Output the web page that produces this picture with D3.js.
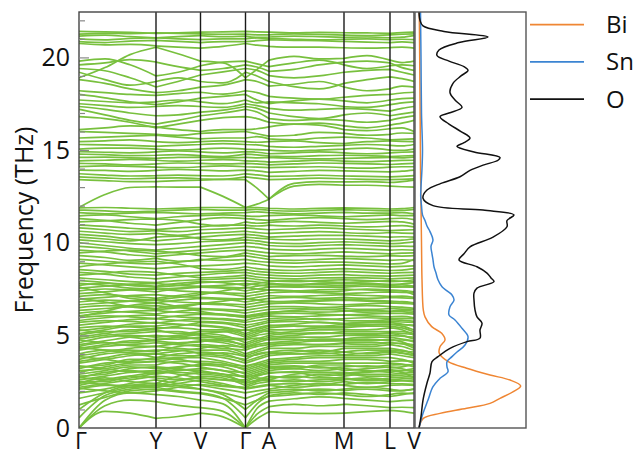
<!DOCTYPE html>
<html>
<head>
<meta charset="utf-8">
<script src="https://cdn.jsdelivr.net/npm/d3@7"></script>
<style>
  body { margin: 0; background: #fff; }
  svg { display: block; }
  text { font-family: "Open Sans", sans-serif; fill: #111; }
</style>
</head>
<body>
<svg id="chart" width="634" height="456"></svg>
<script>
// High-symmetry path: labels and their cumulative k-distance
const kLabels = ["Γ", "Y", "V", "Γ", "A", "M", "L", "V"];
const kTicks = [0, 0.77, 1.215, 1.665, 1.90, 2.65, 3.11, 3.35];
// k-points at which each phonon branch is sampled
const kSamples = [0, 0.26, 0.51, 0.77, 0.99, 1.215, 1.44, 1.665, 1.78, 1.90, 2.15, 2.40, 2.65, 2.88, 3.11, 3.23, 3.35];
// sample indices of the high-symmetry points (segment breaks)
const segmentBreaks = [0, 3, 5, 7, 9, 12, 14, 16];

const freqTicks = [0, 5, 10, 15, 20];

// Phonon branches (THz), one row per branch, at kSamples
const bands = [
  // high-frequency (oxygen) manifold
  [21.40,21.38,21.35,21.30,21.33,21.36,21.38,21.40,21.38,21.36,21.32,21.35,21.33,21.32,21.30,21.34,21.36],
  [21.26,21.30,21.28,21.33,21.30,21.27,21.25,21.26,21.22,21.22,21.27,21.24,21.20,21.18,21.22,21.25,21.27],
  [21.15,21.20,21.12,21.05,21.12,21.18,21.12,21.15,21.08,21.10,21.15,21.12,21.08,21.10,21.06,21.09,21.18],
  [21.00,20.95,21.02,21.06,21.00,20.96,21.00,21.00,21.05,21.02,20.98,20.95,20.98,21.00,20.96,20.98,20.96],
  [20.85,20.80,20.88,20.92,20.86,20.80,20.85,20.85,20.90,20.95,20.92,20.90,20.86,20.82,20.80,20.84,20.80],
  [20.75,20.68,20.70,20.62,20.55,20.50,20.60,20.75,20.66,20.60,20.55,20.55,20.52,20.50,20.53,20.55,20.50],
  [18.90,19.45,20.15,20.55,20.20,19.80,19.70,18.90,19.35,19.85,20.05,19.92,19.95,20.10,19.85,19.72,19.80],
  [19.80,19.92,19.60,19.00,19.20,19.55,19.75,19.80,19.65,19.50,19.70,19.85,19.60,19.40,19.55,19.60,19.55],
  [19.60,19.70,19.88,19.75,19.50,19.30,19.40,19.60,19.48,19.25,19.35,19.60,19.75,19.80,19.70,19.45,19.30],
  [19.40,19.28,18.90,18.40,18.70,19.05,19.22,19.40,19.30,19.02,18.90,19.00,19.20,19.30,19.35,19.20,19.05],
  [19.20,18.80,18.50,18.70,18.90,18.70,18.62,19.20,19.00,18.70,18.42,18.30,18.60,18.80,18.95,18.85,18.70],
  [18.80,18.60,18.30,18.10,18.20,18.40,18.50,18.80,18.70,18.45,18.55,18.70,18.40,18.20,18.30,18.45,18.40],
  [18.20,18.10,18.00,17.95,18.05,18.12,18.02,18.20,18.10,17.90,17.80,17.75,17.85,17.95,18.00,18.08,18.12],
  [18.00,17.82,17.60,17.45,17.60,17.80,17.90,18.00,17.70,17.50,17.65,17.75,17.65,17.55,17.70,17.78,17.80],
  [17.70,17.62,17.55,17.60,17.70,17.60,17.50,17.70,17.55,17.60,17.55,17.50,17.35,17.30,17.45,17.55,17.60],
  [17.50,17.40,17.30,17.35,17.40,17.35,17.30,17.50,17.40,17.25,17.15,17.20,17.25,17.20,17.10,17.25,17.35],
  [17.35,17.20,17.00,16.85,16.90,17.05,17.15,17.35,17.25,17.00,16.80,16.70,16.90,17.00,16.85,16.95,17.05],
  [17.20,16.90,16.60,16.40,16.60,16.85,17.00,17.20,17.05,16.70,16.60,16.65,16.60,16.50,16.60,16.75,16.85],
  [16.80,16.70,16.50,16.20,16.40,16.60,16.75,16.80,16.70,16.50,16.40,16.45,16.30,16.20,16.35,16.45,16.60],
  [16.10,16.20,16.30,16.25,16.10,16.00,16.10,16.10,16.15,16.25,16.40,16.35,16.10,16.05,16.15,16.20,16.00],
  [16.00,15.95,15.90,15.85,15.80,15.90,15.95,16.00,15.88,15.75,15.80,15.95,15.90,15.80,15.85,15.92,15.90],
  [15.65,15.70,15.75,15.80,15.70,15.60,15.65,15.65,15.72,15.60,15.55,15.65,15.70,15.65,15.55,15.58,15.60],
  [15.45,15.50,15.55,15.45,15.40,15.45,15.50,15.45,15.42,15.45,15.50,15.40,15.35,15.45,15.50,15.47,15.45],
  [15.30,15.28,15.25,15.20,15.25,15.30,15.35,15.30,15.28,15.20,15.15,15.20,15.25,15.30,15.25,15.22,15.30],
  [15.05,15.10,15.10,15.05,15.00,15.05,15.10,15.05,15.02,15.00,14.95,15.00,15.05,15.10,15.00,14.98,15.05],
  [14.92,14.88,14.85,14.90,14.95,14.90,14.85,14.92,14.88,14.80,14.85,14.90,14.85,14.80,14.85,14.88,14.90],
  [14.78,14.75,14.70,14.72,14.75,14.70,14.65,14.78,14.74,14.68,14.65,14.70,14.72,14.70,14.65,14.68,14.70],
  [14.60,14.62,14.58,14.55,14.60,14.62,14.58,14.60,14.58,14.60,14.55,14.52,14.55,14.58,14.60,14.58,14.62],
  [14.42,14.45,14.50,14.45,14.40,14.45,14.48,14.42,14.40,14.35,14.40,14.45,14.40,14.38,14.42,14.44,14.45],
  [14.28,14.25,14.20,14.25,14.30,14.28,14.25,14.28,14.25,14.20,14.25,14.30,14.28,14.25,14.22,14.25,14.28],
  [14.10,14.15,14.12,14.08,14.05,14.10,14.15,14.10,14.08,14.05,14.08,14.10,14.05,14.02,14.08,14.10,14.10],
  [13.92,13.90,13.85,13.90,13.95,13.92,13.88,13.92,13.88,13.80,13.85,13.90,13.88,13.85,13.82,13.86,13.92],
  [13.72,13.65,13.60,13.62,13.65,13.62,13.60,13.72,13.66,13.58,13.60,13.64,13.60,13.58,13.55,13.58,13.62],
  [13.55,13.50,13.45,13.48,13.50,13.45,13.42,13.55,13.48,13.40,13.44,13.48,13.45,13.42,13.40,13.42,13.45],
  [13.40,13.35,13.30,13.30,13.35,13.38,13.42,13.40,12.95,12.35,13.20,13.30,13.28,13.30,13.25,13.30,13.38],
  [11.90,12.60,12.98,13.02,13.00,13.00,12.50,11.90,12.08,12.35,13.05,13.15,13.10,13.10,13.05,13.02,13.00],
  // 9.4 - 11.9 THz
  [11.88,11.90,11.86,11.82,11.85,11.90,11.90,11.88,11.90,11.86,11.82,11.85,11.88,11.85,11.82,11.84,11.90],
  [11.76,11.72,11.66,11.70,11.76,11.80,11.76,11.76,11.80,11.75,11.70,11.74,11.78,11.75,11.72,11.74,11.80],
  [11.62,11.56,11.60,11.64,11.60,11.55,11.60,11.62,11.66,11.62,11.56,11.60,11.64,11.60,11.60,11.62,11.55],
  [11.45,11.50,11.40,11.30,11.40,11.46,11.50,11.45,11.42,11.46,11.50,11.45,11.40,11.45,11.50,11.46,11.46],
  [11.30,11.20,11.05,10.95,11.10,11.25,11.35,11.30,11.25,11.20,11.30,11.35,11.30,11.25,11.30,11.32,11.25],
  [11.12,11.18,11.25,11.28,11.20,11.00,10.90,11.12,11.05,11.10,11.15,11.10,11.05,11.10,11.15,11.12,11.00],
  [10.95,10.88,10.78,10.70,10.80,10.85,10.95,10.95,10.90,10.95,10.90,10.95,10.90,10.85,10.90,10.92,10.85],
  [10.80,10.70,10.60,10.65,10.60,10.70,10.75,10.80,10.75,10.70,10.75,10.80,10.75,10.70,10.65,10.68,10.70],
  [10.62,10.52,10.45,10.50,10.40,10.50,10.55,10.62,10.55,10.50,10.55,10.60,10.55,10.50,10.55,10.52,10.50],
  [10.45,10.35,10.20,10.10,10.20,10.30,10.40,10.45,10.40,10.30,10.35,10.40,10.40,10.35,10.30,10.32,10.30],
  [10.30,10.20,10.10,10.30,10.35,10.20,10.15,10.30,10.25,10.20,10.15,10.20,10.20,10.15,10.10,10.14,10.20],
  [10.15,10.05,9.95,9.90,9.95,10.05,10.10,10.15,10.10,10.00,9.95,10.00,10.05,10.00,9.95,9.98,10.05],
  [10.00,9.85,9.70,9.60,9.70,9.80,9.90,10.00,9.95,9.85,9.80,9.85,9.90,9.85,9.80,9.82,9.80],
  [9.80,9.70,9.55,9.40,9.50,9.60,9.70,9.80,9.75,9.65,9.60,9.65,9.70,9.65,9.60,9.62,9.60],
  // 7.5 - 9.6 THz
  [9.60,9.50,9.35,9.25,9.35,9.45,9.55,9.60,9.52,9.45,9.40,9.45,9.50,9.45,9.40,9.44,9.45],
  [9.45,9.55,9.60,9.55,9.45,9.30,9.25,9.45,9.35,9.25,9.30,9.32,9.28,9.25,9.30,9.28,9.30],
  [9.30,9.20,9.05,9.15,9.00,9.05,9.20,9.30,9.20,9.10,9.05,9.10,9.15,9.10,9.05,9.08,9.05],
  [9.10,9.00,8.90,8.85,8.95,9.10,9.05,9.10,9.00,8.95,8.90,8.95,8.95,8.90,8.85,8.88,9.10],
  [8.90,8.80,8.70,8.60,8.70,8.75,8.80,8.90,8.85,8.75,8.70,8.75,8.80,8.75,8.70,8.72,8.75],
  [8.70,8.85,8.95,9.00,8.85,8.60,8.55,8.70,8.60,8.55,8.50,8.55,8.60,8.55,8.50,8.52,8.60],
  [8.55,8.45,8.30,8.25,8.35,8.40,8.45,8.55,8.45,8.40,8.35,8.40,8.45,8.40,8.35,8.38,8.40],
  [8.40,8.30,8.15,8.05,8.15,8.25,8.35,8.40,8.30,8.25,8.20,8.25,8.28,8.22,8.20,8.22,8.25],
  [8.25,8.35,8.45,8.40,8.25,8.10,8.15,8.25,8.15,8.10,8.05,8.10,8.12,8.10,8.05,8.08,8.10],
  [8.10,8.00,7.90,7.85,7.95,8.00,8.05,8.10,8.02,7.95,7.90,7.95,8.00,7.95,7.90,7.92,8.00],
  [7.95,7.85,7.70,7.60,7.70,7.85,7.90,7.95,7.88,7.80,7.75,7.80,7.85,7.80,7.75,7.78,7.85],
  [7.80,7.70,7.55,7.50,7.55,7.65,7.70,7.80,7.72,7.65,7.60,7.65,7.70,7.65,7.60,7.62,7.65],
  // 5.2 - 7.9 THz
  [7.70,7.80,7.75,7.65,7.80,7.90,7.85,7.70,7.80,7.90,7.95,7.90,7.85,7.90,7.95,7.92,7.90],
  [7.60,7.30,7.00,6.90,7.05,7.20,7.40,7.60,7.50,7.45,7.40,7.35,7.40,7.50,7.45,7.40,7.20],
  [7.55,7.65,7.75,7.80,7.70,7.65,7.60,7.55,7.65,7.75,7.70,7.75,7.80,7.75,7.70,7.72,7.65],
  [7.40,7.50,7.45,7.35,7.50,7.60,7.55,7.40,7.50,7.60,7.65,7.60,7.60,7.65,7.60,7.62,7.60],
  [7.25,7.35,7.45,7.50,7.40,7.35,7.30,7.25,7.35,7.45,7.40,7.45,7.50,7.45,7.40,7.42,7.35],
  [7.10,7.20,7.10,7.00,7.15,7.30,7.25,7.10,7.20,7.30,7.35,7.30,7.25,7.30,7.35,7.32,7.30],
  [7.00,6.80,6.55,6.40,6.50,6.70,6.85,7.00,6.90,6.80,6.85,6.90,6.95,6.90,6.85,6.80,6.70],
  [6.95,7.05,7.15,7.20,7.10,7.05,7.00,6.95,7.05,7.15,7.10,7.15,7.20,7.15,7.10,7.12,7.05],
  [6.80,6.90,6.85,6.75,6.90,7.00,6.95,6.80,6.90,7.00,7.05,7.00,7.05,7.00,7.05,7.02,7.00],
  [6.65,6.75,6.85,6.90,6.80,6.75,6.70,6.65,6.75,6.85,6.80,6.85,6.90,6.85,6.80,6.82,6.75],
  [6.50,6.60,6.55,6.45,6.60,6.70,6.65,6.50,6.60,6.70,6.75,6.70,6.65,6.70,6.75,6.72,6.70],
  [6.35,6.45,6.55,6.60,6.50,6.45,6.40,6.35,6.45,6.55,6.55,6.50,6.55,6.60,6.55,6.52,6.45],
  [6.20,6.30,6.25,6.15,6.30,6.40,6.35,6.20,6.30,6.40,6.45,6.40,6.45,6.40,6.45,6.42,6.40],
  [6.05,6.20,6.30,6.35,6.25,6.20,6.15,6.05,6.15,6.25,6.30,6.25,6.30,6.35,6.30,6.28,6.20],
  [6.00,6.30,6.60,6.75,6.55,6.30,6.10,6.00,6.10,6.20,6.35,6.40,6.35,6.25,6.30,6.35,6.30],
  [5.95,6.05,6.00,5.90,6.05,6.15,6.10,5.95,6.05,6.15,6.20,6.15,6.10,6.15,6.20,6.18,6.15],
  [5.80,5.95,6.05,6.10,6.00,5.95,5.90,5.80,5.95,6.05,6.00,6.05,6.10,6.05,6.00,6.02,5.95],
  [5.70,5.80,5.75,5.65,5.80,5.90,5.85,5.70,5.80,5.90,5.95,5.85,5.90,5.95,5.90,5.92,5.90],
  [5.55,5.70,5.85,5.90,5.80,5.75,5.70,5.55,5.65,5.80,5.85,5.90,5.80,5.78,5.85,5.82,5.75],
  [5.40,5.50,5.45,5.35,5.50,5.70,5.65,5.40,5.55,5.70,5.75,5.70,5.65,5.70,5.75,5.72,5.70],
  [5.30,5.10,4.90,4.75,4.90,5.05,5.20,5.30,5.25,5.20,5.10,5.15,5.10,5.05,5.15,5.10,5.05],
  [5.25,5.40,5.60,5.70,5.60,5.55,5.45,5.25,5.40,5.55,5.50,5.45,5.50,5.55,5.60,5.58,5.55],
  // 3.5 - 5.7 THz
  [5.10,5.30,5.50,5.50,5.60,5.50,5.40,5.10,5.30,5.50,5.60,5.70,5.60,5.70,5.70,5.60,5.50],
  [5.00,5.20,5.20,5.40,5.40,5.30,5.30,5.00,5.20,5.40,5.50,5.50,5.60,5.60,5.60,5.50,5.30],
  [4.90,5.10,5.30,5.30,5.10,5.20,5.20,4.90,5.10,5.30,5.30,5.40,5.40,5.50,5.50,5.40,5.20],
  [4.80,5.00,5.10,5.20,5.20,5.00,4.90,4.80,5.00,5.10,5.20,5.30,5.30,5.30,5.40,5.30,5.00],
  [4.75,4.60,4.45,4.40,4.55,4.65,4.80,4.75,4.85,4.75,4.80,4.70,4.75,4.80,4.70,4.75,4.65],
  [4.60,4.90,5.00,4.90,5.00,5.10,5.00,4.60,4.80,5.00,5.10,5.10,5.20,5.20,5.20,5.20,5.10],
  [4.50,4.70,4.90,5.00,4.90,4.80,4.70,4.50,4.70,4.90,5.00,5.10,5.10,5.10,5.10,5.00,4.80],
  [4.40,4.60,4.60,4.80,4.80,4.90,4.80,4.40,4.60,4.80,4.90,4.90,5.00,5.00,5.00,4.95,4.90],
  [4.35,4.20,4.05,4.00,4.15,4.30,4.45,4.35,4.50,4.60,4.55,4.50,4.55,4.50,4.60,4.55,4.30],
  [4.30,4.50,4.70,4.70,4.60,4.70,4.60,4.30,4.50,4.60,4.70,4.80,4.80,4.90,4.90,4.80,4.70],
  [4.20,4.40,4.50,4.60,4.50,4.40,4.30,4.20,4.40,4.50,4.60,4.70,4.70,4.70,4.80,4.65,4.40],
  [4.00,4.20,4.20,4.10,4.40,4.50,4.40,4.00,4.20,4.40,4.50,4.50,4.60,4.60,4.60,4.55,4.50],
  [3.90,4.10,4.30,4.40,4.30,4.20,4.20,3.90,4.10,4.30,4.30,4.40,4.40,4.40,4.50,4.40,4.20],
  [3.85,3.70,3.55,3.60,3.75,3.95,4.05,3.85,3.95,4.10,4.00,4.05,3.95,4.05,4.15,4.05,3.95],
  [3.70,4.00,4.10,4.20,4.20,4.00,3.90,3.70,4.00,4.10,4.20,4.10,4.30,4.30,4.30,4.20,4.00],
  [3.60,3.80,4.00,3.80,4.00,4.10,4.00,3.60,3.80,4.00,4.10,4.20,4.10,4.20,4.20,4.15,4.10],
  [3.50,3.70,3.90,4.00,3.90,3.90,3.80,3.50,3.70,3.90,4.00,4.00,4.10,4.00,4.10,4.02,3.90],
  // 1.5 - 4 THz
  [3.35,3.20,3.05,3.10,3.25,3.45,3.40,3.35,3.45,3.30,3.35,3.25,3.30,3.35,3.25,3.30,3.45],
  [3.30,3.40,3.70,3.70,3.80,3.80,3.60,3.30,3.50,3.70,3.80,3.90,3.90,3.90,4.00,3.90,3.80],
  [3.20,3.50,3.60,3.80,3.70,3.50,3.40,3.20,3.40,3.60,3.70,3.80,3.80,3.80,3.80,3.70,3.50],
  [3.10,3.20,3.40,3.40,3.60,3.60,3.50,3.10,3.30,3.50,3.60,3.60,3.70,3.70,3.60,3.62,3.60],
  [3.00,3.30,3.50,3.60,3.50,3.30,3.10,3.00,3.20,3.40,3.50,3.50,3.50,3.50,3.50,3.45,3.30],
  [2.90,3.10,3.30,3.20,3.30,3.40,3.30,2.90,3.10,3.30,3.20,3.40,3.40,3.30,3.40,3.42,3.40],
  [2.80,2.90,3.20,3.30,3.20,3.00,2.90,2.80,3.00,3.20,3.30,3.30,3.10,3.20,3.30,3.20,3.00],
  [2.75,2.60,2.70,2.95,3.15,3.10,2.90,2.75,2.85,2.95,3.05,3.00,2.95,3.05,3.15,3.10,3.10],
  [2.70,3.00,3.10,2.90,3.10,3.20,3.10,2.70,2.90,3.10,3.20,3.10,3.20,3.10,3.00,3.10,3.20],
  [2.60,2.80,3.00,3.10,2.90,2.70,2.60,2.60,2.80,3.00,3.00,2.80,2.90,3.00,3.10,3.00,2.70],
  [2.50,2.50,2.80,3.00,3.00,2.90,2.80,2.50,2.70,2.60,2.90,3.00,3.00,2.80,2.80,2.85,2.90],
  [2.45,2.35,2.20,2.30,2.55,2.70,2.60,2.45,2.55,2.60,2.50,2.60,2.65,2.55,2.60,2.65,2.70],
  [2.40,2.70,2.50,2.40,2.80,3.00,2.90,2.40,2.60,2.80,2.70,2.90,2.80,2.90,2.90,2.95,3.00],
  [2.30,2.60,2.80,2.70,2.60,2.80,2.70,2.30,2.50,2.70,2.80,2.70,2.70,2.60,2.70,2.75,2.80],
  [2.20,2.40,2.60,2.80,2.70,2.50,2.30,2.20,2.40,2.50,2.60,2.50,2.60,2.70,2.60,2.55,2.50],
  [2.15,2.00,1.90,2.00,2.20,2.35,2.25,2.15,2.25,2.35,2.40,2.30,2.35,2.45,2.40,2.38,2.35],
  [2.10,2.30,2.30,2.20,2.40,2.60,2.40,2.10,2.20,2.30,2.20,2.30,2.50,2.40,2.50,2.55,2.60],
  [1.90,2.10,2.40,2.60,2.40,2.30,2.10,1.90,2.00,2.10,2.30,2.40,2.30,2.20,2.30,2.32,2.30],
  [1.60,1.90,2.20,2.30,2.20,2.10,1.90,1.60,1.80,2.00,2.10,2.00,2.10,2.20,2.10,2.02,2.10],
  [1.25,1.65,2.00,2.10,1.95,1.85,1.60,1.25,1.50,1.70,1.80,1.90,1.80,1.70,1.80,1.88,1.85],
  [1.00,1.90,2.30,2.40,2.30,2.10,1.80,1.00,1.50,1.90,2.00,2.10,2.02,2.10,2.00,2.02,2.10],
  [0.55,1.75,2.10,2.20,2.00,1.90,1.60,0.55,1.30,1.75,1.90,1.82,1.90,1.80,1.70,1.80,1.90],
  // acoustic branches
  [0.00,1.50,1.90,1.80,1.70,1.50,1.30,0.00,1.05,1.45,1.58,1.68,1.60,1.50,1.42,1.48,1.50],
  [0.00,1.20,1.50,1.42,1.22,1.10,0.90,0.00,0.75,1.15,1.28,1.20,1.28,1.20,1.10,1.12,1.10],
  [0.00,0.90,0.80,0.52,0.62,0.80,0.60,0.00,0.50,0.88,0.80,0.78,0.80,0.88,0.95,0.90,0.80]
];

// Projected phonon DOS (arb. units) versus frequency (THz)
const dosOFreq = [22.45, 22.0, 21.7, 21.4, 21.1, 20.8, 20.4, 20.1, 19.8, 19.5, 19.3, 19.0, 18.6, 18.1, 17.7, 17.3, 17.0, 16.8, 16.4, 16.0, 15.65, 15.4, 15.2, 14.9, 14.6, 14.45, 14.2, 13.9, 13.56, 13.2, 12.84, 12.4, 12.0, 11.76, 11.5, 11.2, 10.86, 10.3, 9.78, 9.4, 9.07, 8.7, 8.36, 8.1, 7.9, 7.55, 7.28, 6.9, 6.37, 6.0, 5.66, 5.29, 4.85, 4.66, 4.3, 3.85, 3.58, 2.97, 2.43, 1.51, 0.61, 0];
const dosO = [0.00, 0.01, 0.04, 0.25, 0.69, 0.40, 0.20, 0.18, 0.30, 0.45, 0.49, 0.42, 0.34, 0.31, 0.36, 0.43, 0.30, 0.21, 0.30, 0.42, 0.51, 0.45, 0.38, 0.55, 0.81, 0.79, 0.65, 0.51, 0.41, 0.22, 0.08, 0.04, 0.14, 0.64, 0.95, 0.88, 0.88, 0.74, 0.51, 0.45, 0.40, 0.58, 0.68, 0.72, 0.75, 0.58, 0.55, 0.55, 0.56, 0.58, 0.63, 0.61, 0.61, 0.48, 0.31, 0.19, 0.13, 0.11, 0.08, 0.04, 0.02, 0.00];
const dosSnFreq = [22.45, 20.0, 17.0, 15.0, 14.0, 13.0, 12.5, 12.0, 11.5, 11.2, 10.9, 10.6, 10.15, 9.8, 9.4, 9.07, 8.7, 8.36, 8.0, 7.62, 7.4, 7.18, 6.9, 6.55, 6.1, 5.83, 5.38, 4.93, 4.48, 4.1, 3.85, 3.58, 3.3, 3.04, 2.68, 2.23, 1.51, 0.79, 0];
const dosSn = [0.015, 0.02, 0.025, 0.035, 0.03, 0.02, 0.017, 0.025, 0.035, 0.06, 0.08, 0.11, 0.14, 0.12, 0.13, 0.14, 0.15, 0.17, 0.19, 0.23, 0.28, 0.33, 0.35, 0.31, 0.30, 0.36, 0.43, 0.49, 0.46, 0.38, 0.33, 0.28, 0.28, 0.29, 0.21, 0.14, 0.09, 0.04, 0.00];
const dosBiFreq = [22.45, 18.0, 14.0, 12.0, 10.0, 8.0, 6.37, 6.0, 5.47, 5.11, 4.75, 4.39, 4.03, 3.58, 3.22, 2.86, 2.59, 2.27, 1.96, 1.6, 1.33, 1.06, 0.79, 0.52, 0];
const dosBi = [0.003, 0.01, 0.015, 0.02, 0.025, 0.03, 0.043, 0.06, 0.127, 0.227, 0.26, 0.21, 0.203, 0.293, 0.477, 0.71, 0.91, 1.017, 0.943, 0.81, 0.71, 0.477, 0.21, 0.043, 0.00];

const species = ["Bi", "Sn", "O"];
const speciesColors = ["#ef8633", "#3b84d2", "#111111"];

const svg = d3.select("#chart");

// panel geometry
const bandLeft = 79, bandRight = 414, plotTop = 12, plotBottom = 428;
const dosLeft = 414, dosRight = 526;

const x = d3.scaleLinear().domain([0, 3.35]).range([bandLeft, bandRight]);
const y = d3.scaleLinear().domain([0, 22.45]).range([plotBottom, plotTop]);
const xd = d3.scaleLinear().domain([-0.05, 1.07]).range([dosLeft, dosRight]);

const defs = svg.append("defs");
defs.append("clipPath").attr("id", "bandClip")
  .append("rect").attr("x", bandLeft).attr("y", plotTop)
  .attr("width", bandRight - bandLeft).attr("height", plotBottom - plotTop);
defs.append("clipPath").attr("id", "dosClip")
  .append("rect").attr("x", dosLeft).attr("y", plotTop)
  .attr("width", dosRight - dosLeft).attr("height", plotBottom - plotTop);

// phonon branches, drawn segment by segment between high-symmetry points
const segLine = d3.line().x(d => x(d[0])).y(d => y(d[1])).curve(d3.curveMonotoneX);
function branchPath(vals) {
  let d = "";
  for (let s = 0; s < segmentBreaks.length - 1; s++) {
    const pts = [];
    for (let i = segmentBreaks[s]; i <= segmentBreaks[s + 1]; i++) pts.push([kSamples[i], vals[i]]);
    d += segLine(pts);
  }
  return d;
}
svg.append("g").attr("clip-path", "url(#bandClip)")
  .selectAll("path").data(bands).join("path")
  .attr("d", branchPath)
  .attr("fill", "none")
  .attr("stroke", "#78c03e")
  .attr("stroke-width", 1.7);

// high-symmetry verticals
svg.append("g").selectAll("line").data(kTicks.slice(1, -1)).join("line")
  .attr("x1", d => x(d)).attr("x2", d => x(d))
  .attr("y1", plotTop).attr("y2", plotBottom)
  .attr("stroke", "#1a1a1a").attr("stroke-width", 1.4);

// band panel frame
svg.append("rect").attr("x", bandLeft).attr("y", plotTop)
  .attr("width", bandRight - bandLeft).attr("height", plotBottom - plotTop)
  .attr("fill", "none").attr("stroke", "#444").attr("stroke-width", 1.4);

// frequency axis: minor and major inward ticks
const minorTicks = d3.range(0, 23).filter(v => v % 5 !== 0);
svg.append("g").attr("transform", `translate(${bandLeft},0)`)
  .call(d3.axisLeft(y).tickValues(minorTicks).tickSize(-6).tickFormat(""))
  .call(g => g.select(".domain").remove())
  .call(g => g.selectAll("line").attr("stroke", "#888").attr("stroke-width", 1.2));
svg.append("g").attr("transform", `translate(${bandLeft},0)`)
  .call(d3.axisLeft(y).tickValues(freqTicks).tickSize(-10).tickPadding(9).tickFormat(d3.format("d")))
  .call(g => g.select(".domain").remove())
  .call(g => g.selectAll("line").attr("stroke", "#888").attr("stroke-width", 1.2))
  .call(g => g.selectAll("text").attr("font-size", 25).attr("font-family", "Open Sans, sans-serif").attr("fill", "#111"));

svg.append("text")
  .attr("transform", `translate(33,${(plotTop + plotBottom) / 2}) rotate(-90)`)
  .attr("text-anchor", "middle")
  .attr("font-size", 25)
  .text("Frequency (THz)");

// k-path labels
svg.append("g").selectAll("text").data(kLabels).join("text")
  .attr("x", (d, i) => x(kTicks[i]) + (i === 0 ? 2 : 0))
  .attr("y", 449)
  .attr("text-anchor", "middle")
  .attr("font-size", 23)
  .text(d => d);

// DOS panel
const dosLine = d3.line().x(d => xd(d[1])).y(d => y(d[0])).curve(d3.curveCatmullRom.alpha(0.5));
const dosSets = [
  d3.zip(dosBiFreq, dosBi),
  d3.zip(dosSnFreq, dosSn),
  d3.zip(dosOFreq, dosO)
];
svg.append("g").attr("clip-path", "url(#dosClip)")
  .selectAll("path").data(dosSets).join("path")
  .attr("d", dosLine)
  .attr("fill", "none")
  .attr("stroke", (d, i) => speciesColors[i])
  .attr("stroke-width", 1.5);

svg.append("rect").attr("x", dosLeft + 1).attr("y", plotTop)
  .attr("width", dosRight - dosLeft - 1).attr("height", plotBottom - plotTop)
  .attr("fill", "none").attr("stroke", "#555").attr("stroke-width", 1.4);

// legend
const legend = svg.append("g").selectAll("g").data(species).join("g")
  .attr("transform", (d, i) => `translate(530,${24.7 + i * 37.2})`);
legend.append("line").attr("x1", 0).attr("x2", 54)
  .attr("stroke", (d, i) => speciesColors[i]).attr("stroke-width", 1.8);
legend.append("text").attr("x", 76).attr("dy", "0.35em")
  .attr("font-size", 24).text(d => d);
</script>
</body>
</html>
